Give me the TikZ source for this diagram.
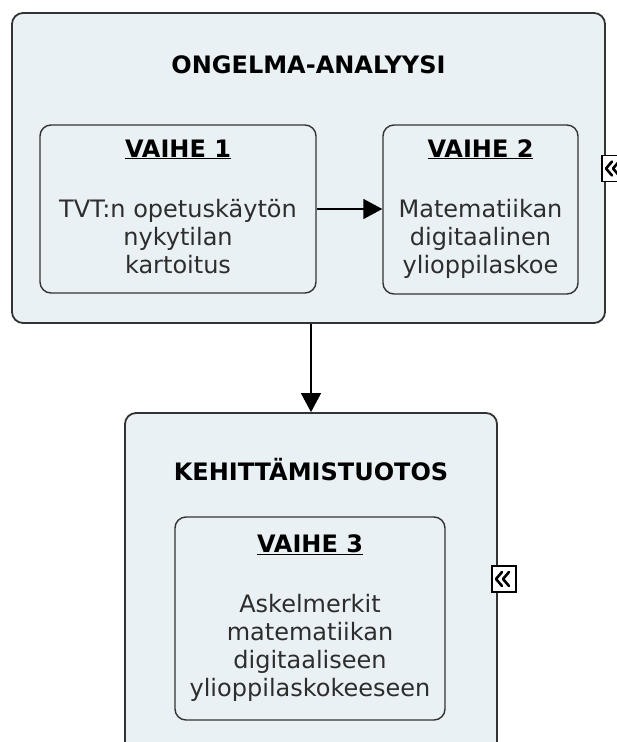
\documentclass[tikz,border=0pt]{standalone}
\usepackage{fontspec}
\setmainfont{DejaVu Sans}
\usetikzlibrary{arrows.meta}
\definecolor{boxfill}{RGB}{234,241,244}
\definecolor{boxline}{RGB}{51,51,51}
\definecolor{bodytext}{RGB}{45,45,45}
\tikzset{
  outerbox/.style={draw=boxline, line width=1.8pt, fill=boxfill, rounded corners=11pt, inner sep=0pt},
  innerbox/.style={draw=boxline, line width=1.4pt, fill=boxfill, rounded corners=11pt, inner sep=0pt},
  titletext/.style={anchor=base, inner sep=0pt, font=\fontsize{24}{28}\selectfont\bfseries, text=black},
  headtext/.style={anchor=base, inner sep=0pt, font=\fontsize{24}{28}\selectfont\bfseries, text=black},
  bodytxt/.style={anchor=base, inner sep=0pt, align=center, font=\fontsize{24}{28}\selectfont, text=bodytext},
  flow/.style={draw=black, line width=1.5pt, -{Triangle[width=20pt,length=19pt]}},
  collapseicon/.style={draw=black, line width=1.4pt, fill=white, inner sep=0pt, minimum width=24pt, minimum height=26pt,
    path picture={
      \draw[line width=2.6pt, line cap=round, line join=round]
        ([xshift=-2pt,yshift=7pt]path picture bounding box.center) -- ([xshift=-8pt]path picture bounding box.center) -- ([xshift=-2pt,yshift=-7pt]path picture bounding box.center)
        ([xshift=5pt,yshift=7pt]path picture bounding box.center) -- ([xshift=-1pt]path picture bounding box.center) -- ([xshift=5pt,yshift=-7pt]path picture bounding box.center);
    }},
}
\begin{document}
\begin{tikzpicture}[x=1pt,y=-1pt]
\useasboundingbox (0,0) rectangle (617,742);
\clip (0,0) rectangle (617,742);
% top group
\node[outerbox, minimum width=593pt, minimum height=310pt] (ana) at (308.5,168) {};
\node[collapseicon] (icon1) at (614,168.5) {};
\node[titletext] (anat) at (308.5,73) {ONGELMA-ANALYYSI};
\node[innerbox, minimum width=276pt, minimum height=168pt] (v1) at (178,209) {};
\node[headtext] (v1h) at (178,157) {\underline{VAIHE 1}};
\node[bodytxt] (v1b) at (178,273) {TVT:n opetuskäytön\\nykytilan\\kartoitus};
\node[innerbox, minimum width=195pt, minimum height=169pt] (v2) at (480.5,209.5) {};
\node[headtext] (v2h) at (480.5,157) {\underline{VAIHE 2}};
\node[bodytxt] (v2b) at (480.5,273) {Matematiikan\\digitaalinen\\ylioppilaskoe};
% bottom group
\node[outerbox, minimum width=372pt, minimum height=357pt] (keh) at (311,591.5) {};
\node[collapseicon] (icon2) at (504,579) {};
\node[titletext] (keht) at (311,480) {KEHITTÄMISTUOTOS};
\node[innerbox, minimum width=270pt, minimum height=203pt] (v3) at (310,618.5) {};
\node[headtext] (v3h) at (310,552) {\underline{VAIHE 3}};
\node[bodytxt] (v3b) at (310,696) {Askelmerkit\\matematiikan\\digitaaliseen\\ylioppilaskokeeseen};
% connectors
\draw[flow] (v1.east) -- (v1.east -| v2.west);
\draw[flow] (ana.south -| keh.north) -- (keh.north);
\end{tikzpicture}
\end{document}
